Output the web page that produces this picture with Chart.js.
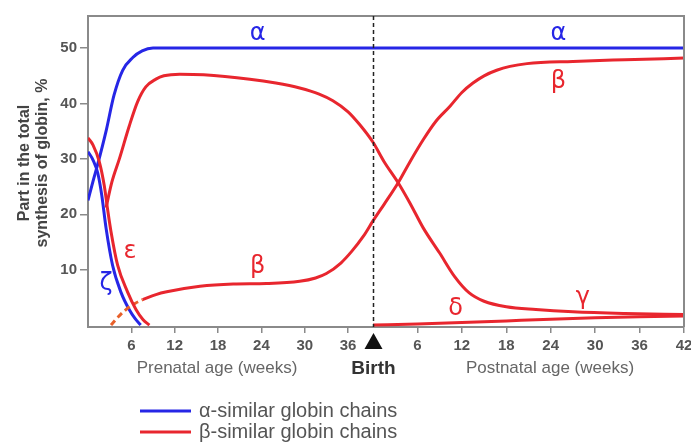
<!DOCTYPE html>
<html><head><meta charset="utf-8">
<script src="https://cdn.jsdelivr.net/npm/chart.js@4"></script>
<style>html,body{margin:0;padding:0;background:#fff;} canvas{display:block;}</style>
</head><body>
<canvas id="c" width="691" height="446"></canvas>
<script>
// ---- axis definitions ----
const BIRTH = 39.45;        // prenatal weeks at birth
const POST_SCALE = 1.025;   // postnatal week width relative to prenatal week
const POST_MAX = 42;
const yTicks = [10, 20, 30, 40, 50];
const prenatalTicks = [6, 12, 18, 24, 30, 36];
const postnatalTicks = [6, 12, 18, 24, 30, 36, 42];

// ---- α-similar chains ----
const alphaPreWeeks = [0, 0.7, 1.34, 2.5, 3.6, 4.8, 6.2, 7.5, 9, 39.45];
const alphaPreVals  = [22.5, 26, 29, 35, 41.5, 46, 48.3, 49.5, 50, 50];
const alphaPostWeeks = [0, 42];
const alphaPostVals  = [50, 50];

const zetaPreWeeks = [0, 0.7, 1.34, 1.9, 2.5, 3.4, 4.57, 5.7, 6.5, 7.3];
const zetaPreVals  = [31.3, 29.8, 27.5, 23.5, 17.5, 10.8, 5.9, 2.8, 1.2, 0];

// ---- β-similar chains ----
const epsilonPreWeeks = [0, 0.7, 1.56, 2.26, 2.7, 3.18, 4.1, 5.5, 6.64, 7.6, 8.5];
const epsilonPreVals  = [33.8, 32.5, 29.5, 25.1, 21, 16.9, 10.8, 5.9, 2.8, 1.0, 0];

const gammaPreWeeks = [2.5, 3.3, 4.34, 5.7, 6.86, 8.0, 9.4, 10.5, 12.7, 16, 22.4, 26, 29.3, 32, 33.9, 36, 37.6, 39.45];
const gammaPreVals  = [21.2, 25.8, 30, 35.9, 40.3, 43, 44.4, 45, 45.3, 45.2, 44.4, 43.7, 42.8, 41.7, 40.5, 38.5, 36.2, 33];
const gammaPostWeeks = [1.5, 3.4, 5, 6.8, 9, 11, 13, 15, 18, 22, 27, 34, 42];
const gammaPostVals  = [29.5, 25.7, 22, 17.5, 13, 8.8, 5.8, 4.3, 3.3, 2.8, 2.4, 2.1, 1.9];

const betaEarlyWeeks = [3.18, 4.2, 5.26, 6.5, 7.56];
const betaEarlyVals  = [0, 1.5, 2.8, 3.9, 4.6];
const betaPreWeeks = [7.56, 9.4, 10.9, 15.5, 20.1, 24.7, 29.3, 31.5, 33, 35, 36.5, 38.1, 39.45];
const betaPreVals  = [4.6, 5.5, 6.0, 7.0, 7.4, 7.5, 7.9, 8.5, 9.3, 11.2, 13.3, 16, 18.8];
const betaPostWeeks = [1.5, 3.4, 5, 6.8, 8.5, 10.4, 12, 13.5, 15, 16.7, 18.5, 20.8, 27, 34, 42];
const betaPostVals  = [21.8, 25.7, 29.5, 33.5, 36.8, 39.5, 42, 43.7, 45, 46, 46.7, 47.2, 47.6, 47.9, 48.2];

const deltaPostWeeks = [0, 6, 12, 18, 24, 30, 36, 42];
const deltaPostVals  = [0, 0.2, 0.45, 0.75, 1.05, 1.3, 1.5, 1.65];

// ---- helpers ----
const postX = p => BIRTH + p * POST_SCALE;
function pts(preW, preV, postW, postV) {
  const out = [];
  (preW || []).forEach((w, i) => out.push({ x: w, y: preV[i] }));
  (postW || []).forEach((w, i) => out.push({ x: postX(w), y: postV[i] }));
  return out;
}

const BLUE = '#2626e6';
const RED = '#e8262e';
const ORANGE = '#e8602a';
const GREY = '#555';
const FONT = '"Liberation Sans", Arial, sans-serif';

function ds(data, color, dash) {
  return {
    data, borderColor: color, borderWidth: 3, pointRadius: 0,
    cubicInterpolationMode: 'monotone', fill: false,
    borderDash: dash || [], borderCapStyle: 'butt'
  };
}

const datasets = [
  ds(pts(epsilonPreWeeks, epsilonPreVals), RED),
  ds(pts(gammaPreWeeks, gammaPreVals, gammaPostWeeks, gammaPostVals), RED),
  ds(pts(betaEarlyWeeks, betaEarlyVals), ORANGE, [6, 4]),
  ds(pts(betaPreWeeks, betaPreVals, betaPostWeeks, betaPostVals), RED),
  ds(pts(null, null, deltaPostWeeks, deltaPostVals), RED),
  ds(pts(zetaPreWeeks, zetaPreVals), BLUE),
  ds(pts(alphaPreWeeks, alphaPreVals, alphaPostWeeks, alphaPostVals), BLUE)
];

// x tick positions and labels
const xTickVals = prenatalTicks.concat(postnatalTicks.map(postX));
const xTickLabels = prenatalTicks.map(String).concat(postnatalTicks.map(String));

// curve labels (text, chart x in weeks-since-conception, value)
const curveLabels = [
  { t: 'α', x: 23.5, y: 52.6, c: BLUE },
  { t: 'α', x: 65.1, y: 52.6, c: BLUE },
  { t: 'β', x: 65.1, y: 44.0, c: RED },
  { t: 'β', x: 23.5, y: 10.6, c: RED },
  { t: 'ε', x: 5.8, y: 13.2, c: RED },
  { t: 'ζ', x: 2.5, y: 7.4, c: BLUE },
  { t: 'δ', x: 50.9, y: 2.9, c: RED },
  { t: 'γ', x: 68.5, y: 5.0, c: RED }
];

const decor = {
  id: 'decor',
  afterDatasetsDraw(chart) {
    const { ctx, chartArea: a, scales: { x, y } } = chart;
    ctx.save();
    // frame top / right
    ctx.strokeStyle = '#8a8a8a';
    ctx.lineWidth = 2;
    ctx.beginPath();
    ctx.moveTo(a.left, a.top); ctx.lineTo(a.right, a.top); ctx.lineTo(a.right, a.bottom);
    ctx.stroke();
    // birth line
    const bx = Math.round(x.getPixelForValue(BIRTH)) + 0.5;
    ctx.strokeStyle = '#222';
    ctx.lineWidth = 1.5;
    ctx.setLineDash([4, 3]);
    ctx.beginPath(); ctx.moveTo(bx, a.top); ctx.lineTo(bx, a.bottom); ctx.stroke();
    ctx.setLineDash([]);
    // triangle
    ctx.fillStyle = '#111';
    ctx.beginPath();
    ctx.moveTo(bx, a.bottom + 6); ctx.lineTo(bx + 9, a.bottom + 22); ctx.lineTo(bx - 9, a.bottom + 22);
    ctx.closePath(); ctx.fill();
    // Birth
    ctx.font = 'bold 19px ' + FONT;
    ctx.textAlign = 'center'; ctx.textBaseline = 'middle';
    ctx.fillStyle = '#333';
    ctx.fillText('Birth', bx, 369);
    // axis titles
    ctx.font = '17px ' + FONT;
    ctx.fillStyle = '#666';
    ctx.fillText('Prenatal age (weeks)', 217, 368);
    ctx.fillText('Postnatal age (weeks)', 550, 368);
    // y title
    ctx.save();
    ctx.translate(25, 163);
    ctx.rotate(-Math.PI / 2);
    ctx.font = 'bold 16px ' + FONT;
    ctx.fillStyle = '#444';
    ctx.fillText('Part in the total', 0, 0);
    ctx.fillText('synthesis of globin, %', 0, 18);
    ctx.restore();
    // curve labels
    ctx.font = '24px "DejaVu Sans", sans-serif';
    curveLabels.forEach(l => {
      ctx.fillStyle = l.c;
      ctx.fillText(l.t, x.getPixelForValue(l.x), y.getPixelForValue(l.y));
    });
    // legend
    ctx.lineWidth = 3;
    ctx.strokeStyle = BLUE;
    ctx.beginPath(); ctx.moveTo(140, 411); ctx.lineTo(191, 411); ctx.stroke();
    ctx.strokeStyle = RED;
    ctx.beginPath(); ctx.moveTo(140, 432); ctx.lineTo(191, 432); ctx.stroke();
    ctx.font = '20px ' + FONT;
    ctx.textAlign = 'left';
    ctx.fillStyle = GREY;
    ctx.fillText('α-similar globin chains', 199, 411);
    ctx.fillText('β-similar globin chains', 199, 432);
    ctx.restore();
  }
};

new Chart(document.getElementById('c'), {
  type: 'line',
  data: { datasets },
  options: {
    responsive: false,
    animation: false,
    devicePixelRatio: 1,
    layout: { padding: { top: 16, right: 7, left: 0, bottom: 0 } },
    plugins: { legend: { display: false }, tooltip: { enabled: false } },
    scales: {
      x: {
        type: 'linear',
        min: 0, max: postX(POST_MAX),
        afterBuildTicks: s => { s.ticks = xTickVals.map(v => ({ value: v })); },
        afterFit: s => { s.height = 119; s.paddingLeft = 0; s.paddingRight = 0; },
        ticks: {
          autoSkip: false, maxRotation: 0, padding: 4,
          color: GREY,
          font: { family: FONT, size: 15, weight: 'bold' },
          callback: (v, i) => xTickLabels[i]
        },
        grid: { drawOnChartArea: false, tickLength: 6, color: '#8a8a8a', lineWidth: 1.5 },
        border: { color: '#8a8a8a', width: 2 }
      },
      y: {
        min: -0.35, max: 55.8,
        afterBuildTicks: s => { s.ticks = yTicks.map(v => ({ value: v })); },
        afterFit: s => { s.width = 88; s.paddingTop = 0; s.paddingBottom = 0; },
        ticks: {
          padding: 3, color: GREY,
          font: { family: FONT, size: 15, weight: 'bold' }
        },
        grid: { drawOnChartArea: false, tickLength: 8, color: '#8a8a8a', lineWidth: 1.5 },
        border: { color: '#8a8a8a', width: 2 }
      }
    }
  },
  plugins: [decor]
});
</script>
</body></html>
